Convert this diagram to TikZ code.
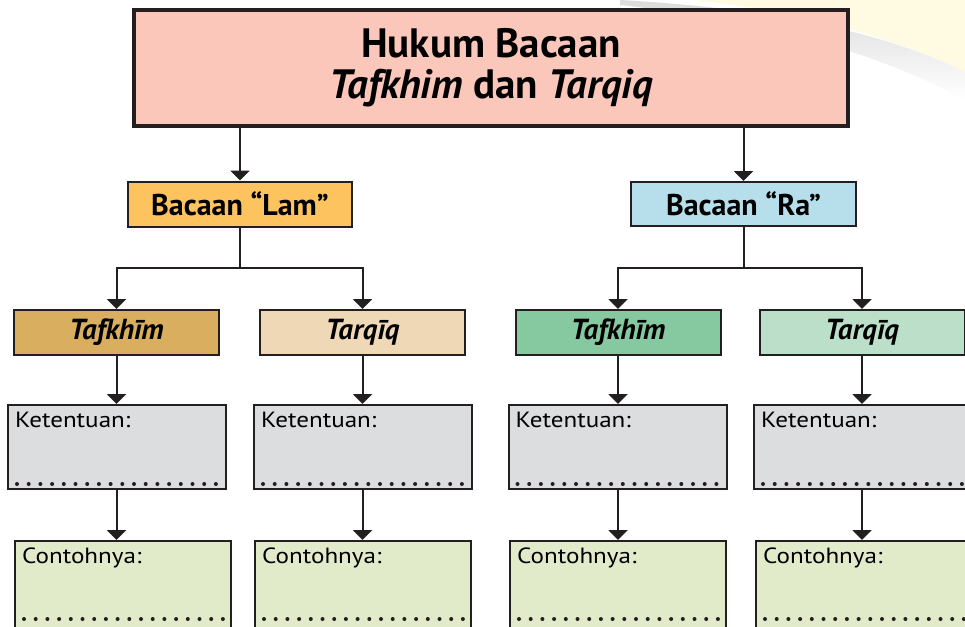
\documentclass[tikz,border=0pt]{standalone}
\usepackage{fontspec}
\setmainfont{PT Sans}
\newfontfamily\labelfont[FakeStretch=1.14]{PT Sans}
\usetikzlibrary{arrows.meta,calc}
\definecolor{boxline}{HTML}{231F20}
\definecolor{titlefill}{HTML}{FBC7BA}
\definecolor{lamfill}{HTML}{FDC35E}
\definecolor{rafill}{HTML}{B6DFEB}
\definecolor{tafLfill}{HTML}{D9AE5E}
\definecolor{tarLfill}{HTML}{EFD8B5}
\definecolor{tafRfill}{HTML}{86C8A0}
\definecolor{tarRfill}{HTML}{BCDFCA}
\definecolor{ketfill}{HTML}{DCDDDF}
\definecolor{confill}{HTML}{E1EBCA}
\definecolor{bgyellow}{HTML}{FFFBE3}
\tikzset{
  box/.style={draw=boxline, line width=2pt, inner sep=0pt},
  arr/.style={draw=boxline, line width=2pt, -{Triangle[width=19pt,length=10pt]}},
  dotrow/.style={boxline, line width=4pt, line cap=round, dash pattern=on 0pt off 11.7pt},
}
\begin{document}
\begin{tikzpicture}[x=1pt, y=-1pt]
  \useasboundingbox (0, 0) rectangle (965, 626);
  \fill[bgyellow] (690, 0) -- (965, 0) -- (965, 72) .. controls (900, 40) and (800, 10) .. (690, 0);
  \shade[top color=black!14, bottom color=white] (620, 0) .. controls (800, 10) and (900, 40) .. (965, 72)
    -- (965, 100) .. controls (900, 65) and (800, 25) .. (620, 5) -- cycle;

  \node at(491, 68) [box, line width=4pt, fill=titlefill, minimum width=714pt, minimum height=116pt,
    align=center, font=\bfseries\fontsize{41}{41}\selectfont](title)
    {Hukum Bacaan\\\textit{Tafkhim} dan \textit{Tarqiq}};
  \node at(240, 204) [box, fill=lamfill, minimum width=224pt, minimum height=45pt,
    font=\bfseries\fontsize{30}{32}\selectfont](lam) {Bacaan “Lam”};
  \node at(743.5, 204) [box, fill=rafill, minimum width=225pt, minimum height=44pt,
    font=\bfseries\fontsize{30}{32}\selectfont](ra) {Bacaan “Ra”};
  \foreach \n/\x/\c/\t in {1/116.5/tafLfill/Tafkhīm, 2/362.5/tarLfill/Tarqīq,
    3/618/tafRfill/Tafkhīm, 4/862/tarRfill/Tarqīq}
  \node at(\x, 332.5) [box, fill=\c, minimum width=205pt, minimum height=45pt,
    font=\bfseries\itshape\fontsize{29}{30}\selectfont](lvl\n) {\t};

  \draw[arr] (title.south -| lam.north) -- (lam.north);
  \draw[arr] (title.south -| ra.north) -- (ra.north);
  \draw[arr] (lam.south) -- ++(0, 40) -| (lvl1.north);
  \draw[arr] (lam.south) -- ++(0, 40) -| (lvl2.north);
  \draw[arr] (ra.south) -- ++(0, 41) -| (lvl3.north);
  \draw[arr] (ra.south) -- ++(0, 41) -| (lvl4.north);

  \foreach \n/\kx/\cx in {1/117/123, 2/363/363, 3/617.5/618, 4/863/864} {
    \node at(\kx, 447) [box, fill=ketfill, minimum width=218pt, minimum height=84pt](ket\n){};
    \node at(\cx, 590) [box, fill=confill, minimum width=216pt, minimum height=98pt](con\n){};
    \node at($(ket\n.north west)+(8, 23)$) [anchor=base west, inner sep=0pt,
      font=\labelfont\fontsize{22}{24}\selectfont](ketlbl\n) {Ketentuan:};
    \node at($(con\n.north west)+(8, 23)$) [anchor=base west, inner sep=0pt,
      font=\labelfont\fontsize{22}{24}\selectfont](conlbl\n) {Contohnya:};
    \draw[dotrow] ($(ket\n.south west)+(10, -6)$) -- ++(200, 0);
    \draw[dotrow] ($(con\n.north west)+(10, 79)$) -- ++(200, 0);
    \draw[arr] (lvl\n.south) -- (lvl\n.south |- ket\n.north);
    \draw[arr] (lvl\n.south |- ket\n.south) -- (lvl\n.south |- con\n.north);
  }
\end{tikzpicture}
\end{document}
